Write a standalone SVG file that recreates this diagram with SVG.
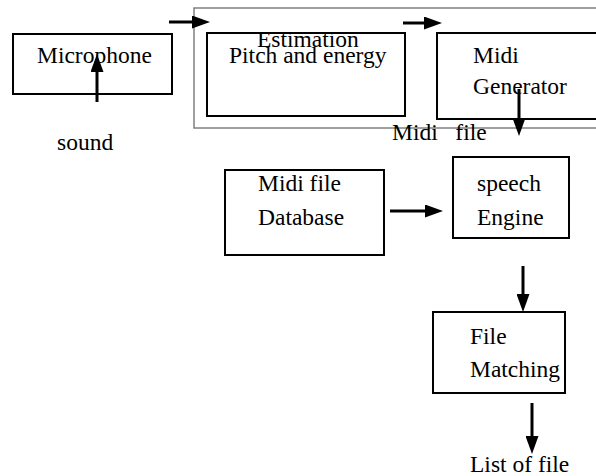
<svg xmlns="http://www.w3.org/2000/svg" width="596" height="476" viewBox="0 0 596 476">
<style>
.box{fill:none;stroke:#000;stroke-width:2}
.outer{fill:none;stroke:#808080;stroke-width:1.5}
text{font-family:"Liberation Serif","Times New Roman",serif;font-size:23.5px;fill:#000}
.c{stroke:#000;stroke-width:3;fill:none}
</style>
<defs>
<marker id="ah" markerUnits="userSpaceOnUse" markerWidth="18" markerHeight="13" refX="0" refY="6.5" orient="auto">
<path d="M0,0 L18,6.5 L0,13 z" fill="#000"/>
</marker>
</defs>
<rect width="596" height="476" fill="#fff"/>
<g id="estimation">
<rect class="outer" x="194" y="8" width="410" height="120"/>
</g>
<g id="microphone">
<rect class="box" x="13" y="34" width="159" height="60"/>
<text x="37" y="63">Microphone</text>
</g>
<g id="pitch">
<rect class="box" x="207" y="33" width="198" height="83"/>
<text x="257" y="47">Estimation</text>
<text x="229" y="63">Pitch and energy</text>
</g>
<g id="midigen">
<rect class="box" x="437" y="33" width="162" height="86"/>
<text x="473" y="63">Midi</text>
<text x="473" y="94">Generator</text>
</g>
<g id="database">
<rect class="box" x="225" y="170" width="159" height="85"/>
<text x="258" y="191">Midi file</text>
<text x="258" y="225">Database</text>
</g>
<g id="engine">
<rect class="box" x="453" y="157" width="116" height="81"/>
<text x="477" y="191">speech</text>
<text x="477" y="225">Engine</text>
</g>
<g id="matching">
<rect class="box" x="433" y="312" width="132" height="81"/>
<text x="470" y="344">File</text>
<text x="470" y="377">Matching</text>
</g>
<g id="labels">
<text x="57" y="150">sound</text>
<text x="392" y="140" xml:space="preserve">Midi   file</text>
<text x="470" y="472">List of file</text>
</g>
<g id="connectors">
<line class="c" x1="97" y1="102" x2="97" y2="72" marker-end="url(#ah)"/>
<line class="c" x1="169" y1="22" x2="192" y2="22" marker-end="url(#ah)"/>
<line class="c" x1="403" y1="23" x2="424" y2="23" marker-end="url(#ah)"/>
<line class="c" x1="519" y1="89" x2="519" y2="118" marker-end="url(#ah)"/>
<line class="c" x1="390" y1="211" x2="425" y2="211" marker-end="url(#ah)"/>
<line class="c" x1="523" y1="266" x2="523" y2="294" marker-end="url(#ah)"/>
<line class="c" x1="532" y1="403" x2="532" y2="436" marker-end="url(#ah)"/>
</g>
</svg>
